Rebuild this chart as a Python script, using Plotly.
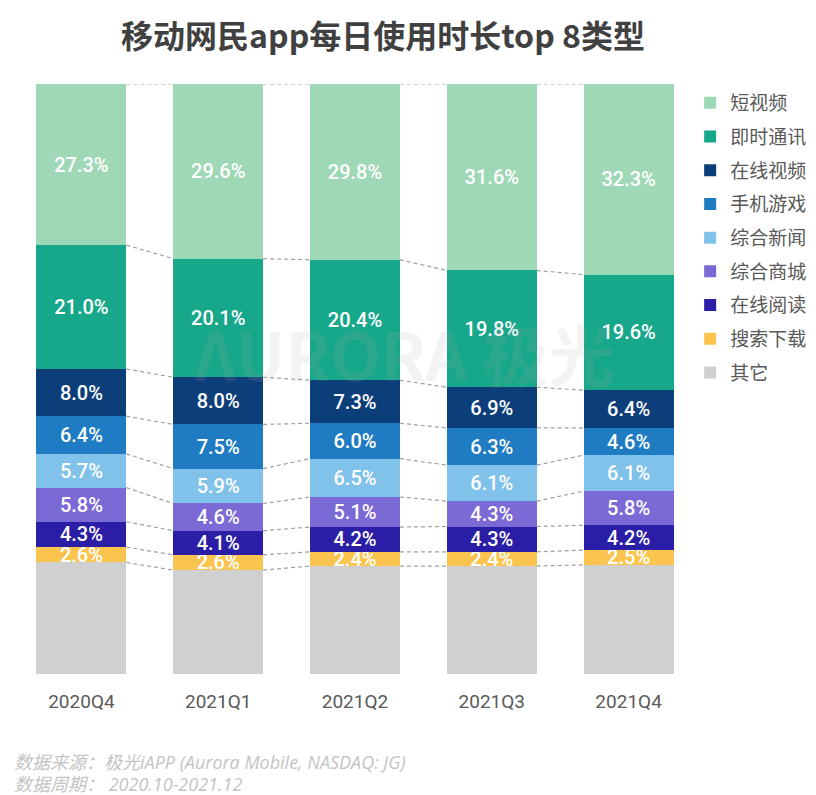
import plotly.graph_objects as go

quarters = ["2020Q4", "2021Q1", "2021Q2", "2021Q3", "2021Q4"]

# stacked bottom -> top
series_names = ["其它", "搜索下载", "在线阅读", "综合商城", "综合新闻", "手机游戏", "在线视频", "即时通讯", "短视频"]
qita = [18.9, 17.6, 18.3, 18.3, 18.5]
sousuo = [2.6, 2.6, 2.4, 2.4, 2.5]
yuedu = [4.3, 4.1, 4.2, 4.3, 4.2]
shangcheng = [5.8, 4.6, 5.1, 4.3, 5.8]
xinwen = [5.7, 5.9, 6.5, 6.1, 6.1]
youxi = [6.4, 7.5, 6.0, 6.3, 4.6]
shipin = [8.0, 8.0, 7.3, 6.9, 6.4]
tongxun = [21.0, 20.1, 20.4, 19.8, 19.6]
duanshipin = [27.3, 29.6, 29.8, 31.6, 32.3]

series_values = [qita, sousuo, yuedu, shangcheng, xinwen, youxi, shipin, tongxun, duanshipin]
colors = ["#d0d0d0", "#fbc44e", "#2b1ea6", "#7b69d6", "#80c2ea", "#207cc2", "#0c3e79", "#17a78a", "#9fd8b6"]
show_label = [False, True, True, True, True, True, True, True, True]

BAR_W = 0.657
xs = list(range(len(quarters)))

fig = go.Figure()
n = len(series_names)
for idx, (name, vals, col, lab) in enumerate(zip(series_names, series_values, colors, show_label)):
    fig.add_trace(go.Bar(
        x=xs, y=vals, name=name, width=BAR_W, legendgroup=name, legendrank=n - idx,
        marker=dict(color=col, line=dict(width=0)),
        text=[f"{v:.1f}%" for v in vals] if lab else None,
        textposition="inside" if lab else "none",
        insidetextanchor="middle",
        textangle=0,
        textfont=dict(color="white", size=20, family="Roboto, Noto Sans CJK SC", weight=500),
        hoverinfo="skip",
    ))

# dashed connector lines at each segment boundary
cum = [0.0] * len(quarters)
for vals in series_values:
    cum = [c + v for c, v in zip(cum, vals)]
    lx, ly = [], []
    for i in range(len(quarters) - 1):
        lx += [i + BAR_W / 2, i + 1 - BAR_W / 2, None]
        ly += [cum[i], cum[i + 1], None]
    fig.add_trace(go.Scatter(x=lx, y=ly, mode="lines", showlegend=False, hoverinfo="skip",
                             line=dict(color="#a0a0a0", width=1.2, dash="4px,3px")))

fig.add_annotation(text="<b>ΛURORA 极光</b>", x=0.573, y=0.545, xref="paper", yref="paper",
                   showarrow=False, font=dict(size=66, color="rgba(170,170,170,0.14)",
                                              family="Noto Sans CJK SC"))

fig.add_annotation(text="<i>数据来源：极光iAPP (Aurora Mobile, NASDAQ: JG)</i>",
                   x=-0.0015, y=-0.149, xref="paper", yref="paper",
                   showarrow=False, xanchor="left", yanchor="middle",
                   font=dict(size=18, color="#c4c4c4", family="Open Sans, Noto Sans CJK SC"))
fig.add_annotation(text="<i>数据周期： 2020.10-2021.12</i>",
                   x=-0.0015, y=-0.186, xref="paper", yref="paper",
                   showarrow=False, xanchor="left", yanchor="middle",
                   font=dict(size=18, color="#c4c4c4", family="Open Sans, Noto Sans CJK SC"))

fig.update_layout(
    width=816, height=795,
    margin=dict(l=5, r=127, t=76, b=129, autoexpand=False),
    barmode="stack",
    plot_bgcolor="white", paper_bgcolor="white",
    title=dict(text="<b>移动网民app每日使用时长top 8类型</b>", x=375 / 816, xanchor="center",
               xref="container", y=1 - 29 / 795, yanchor="middle",
               font=dict(size=32, color="#404040", family="Noto Sans CJK SC")),
    font=dict(family="Noto Sans CJK SC", color="#595959"),
    showlegend=True,
    legend=dict(traceorder="grouped", x=0.990, xanchor="left", y=1.0, yanchor="top",
                font=dict(size=19, color="#595959"), tracegroupgap=6,
                bgcolor="rgba(0,0,0,0)"),
    uniformtext=dict(mode="show", minsize=20),
    xaxis=dict(range=[-0.5, 4.5], tickmode="array", tickvals=xs, ticktext=quarters,
               showgrid=False, zeroline=False, showline=False, ticks="", automargin=False,
               tickfont=dict(size=19, color="#5a5a5a", family="Roboto, Noto Sans CJK SC"),
               ticklabelstandoff=14),
    yaxis=dict(range=[0, 100], visible=False, showgrid=False, automargin=False),
)

fig.write_html("out.html")
